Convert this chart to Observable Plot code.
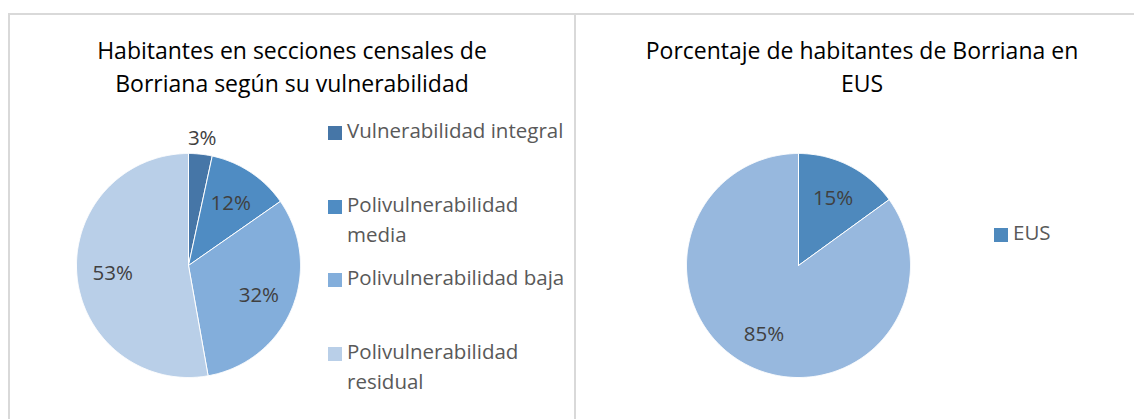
<!DOCTYPE html>
<html><head><meta charset="utf-8">
<script src="https://cdn.jsdelivr.net/npm/d3@7"></script>
<script src="https://cdn.jsdelivr.net/npm/@observablehq/plot@0.6"></script>
<style>
html,body{margin:0;padding:0;background:#fff;}
#root{position:relative;width:1134px;height:419px;overflow:hidden;font-family:"Open Sans",sans-serif;background:#fff;}
.frame{position:absolute;background:#d9d9d9;}
.title{position:absolute;text-align:center;color:#000;font-size:23px;line-height:33px;white-space:nowrap;transform:translateX(-50%);}
.leg{position:absolute;color:#595959;font-size:20.5px;line-height:30px;}
.sw{position:absolute;width:14px;height:14px;}
.pie{position:absolute;}
</style></head><body><div id="root"></div>
<script>
// ---- data ----
const vulnCategories = ["Vulnerabilidad integral", "Polivulnerabilidad media", "Polivulnerabilidad baja", "Polivulnerabilidad residual"];
const vulnValues = [3.4, 11.9, 31.9, 52.8];
const vulnLabels = ["3%", "12%", "32%", "53%"];
const vulnColors = ["#4676a7", "#4f8cc3", "#83aedb", "#b9cfe8"];
const vulnTitle = ["Habitantes en secciones censales de", "Borriana según su vulnerabilidad"];

const eusCategories = ["EUS", "Resto"];
const eusValues = [15, 85];
const eusLabels = ["15%", "85%"];
const eusColors = ["#4e89bd", "#97b8de"];
const eusLegend = ["EUS"];
const eusTitle = ["Porcentaje de habitantes de Borriana en", "EUS"];

// ---- layout ----
const root = document.getElementById("root");
function box(cls, css, html) {
  const d = document.createElement("div");
  d.className = cls;
  Object.assign(d.style, css);
  if (html != null) d.innerHTML = html;
  root.appendChild(d);
  return d;
}
box("frame", {left: "8px", top: "13px", width: "1126px", height: "2px"});
box("frame", {left: "8px", top: "13px", width: "2px", height: "406px"});
box("frame", {left: "574px", top: "13px", width: "2px", height: "406px"});

box("title", {left: "292px", top: "34px"}, vulnTitle.join("<br>"));
box("title", {left: "862px", top: "34px"}, eusTitle.join("<br>"));

const R = 112, HALF = 150, S = HALF / R;

function pie(cats, vals, labels, colors) {
  const arcs = d3.pie().sort(null).value(d => d.value)(cats.map((c, i) => ({key: c, value: vals[i], label: labels[i]})));
  const total = d3.sum(vals);
  const pts = [];
  const labs = [];
  for (const a of arcs) {
    const n = Math.max(2, Math.ceil((a.endAngle - a.startAngle) / (Math.PI / 360)));
    pts.push({key: a.data.key, x: 0, y: 0});
    for (let j = 0; j <= n; j++) {
      const t = a.startAngle + (a.endAngle - a.startAngle) * j / n;
      pts.push({key: a.data.key, x: Math.sin(t), y: Math.cos(t)});
    }
    pts.push({key: a.data.key, x: 0, y: 0});
    const mid = (a.startAngle + a.endAngle) / 2;
    const rr = a.data.value / total < 0.05 ? 1.148 : 0.68;
    labs.push({label: a.data.label, x: rr * Math.sin(mid), y: rr * Math.cos(mid)});
  }
  return Plot.plot({
    width: 2 * HALF, height: 2 * HALF, margin: 0,
    x: {domain: [-S, S], axis: null},
    y: {domain: [-S, S], axis: null},
    color: {domain: cats, range: colors},
    style: {background: "transparent", overflow: "visible"},
    marks: [
      Plot.line(pts, {x: "x", y: "y", z: "key", fill: "key", stroke: "white", strokeWidth: 1, curve: "linear"}),
      Plot.text(labs, {x: "x", y: "y", text: "label", fill: "#404040", fontSize: 20.5, fontFamily: "Open Sans", dy: 1})
    ]
  });
}

const p1 = pie(vulnCategories, vulnValues, vulnLabels, vulnColors);
const w1 = box("pie", {left: (187.6 - HALF) + "px", top: (264.5 - HALF) + "px"});
w1.appendChild(p1);
const p2 = pie(eusCategories, eusValues, eusLabels, eusColors);
const w2 = box("pie", {left: (797.5 - HALF) + "px", top: (264.5 - HALF) + "px"});
w2.appendChild(p2);

// legends
vulnCategories.forEach((c, i) => {
  const top = 115 + i * 73.6;
  box("sw", {left: "328px", top: (top + 11) + "px", background: vulnColors[i]});
  box("leg", {left: "347px", top: top + "px", width: "226px"}, c);
});
eusLegend.forEach((c, i) => {
  const top = 217;
  box("sw", {left: "994px", top: (top + 11) + "px", background: eusColors[eusCategories.indexOf(c)]});
  box("leg", {left: "1013px", top: top + "px", width: "120px"}, c);
});
</script>
</body></html>
